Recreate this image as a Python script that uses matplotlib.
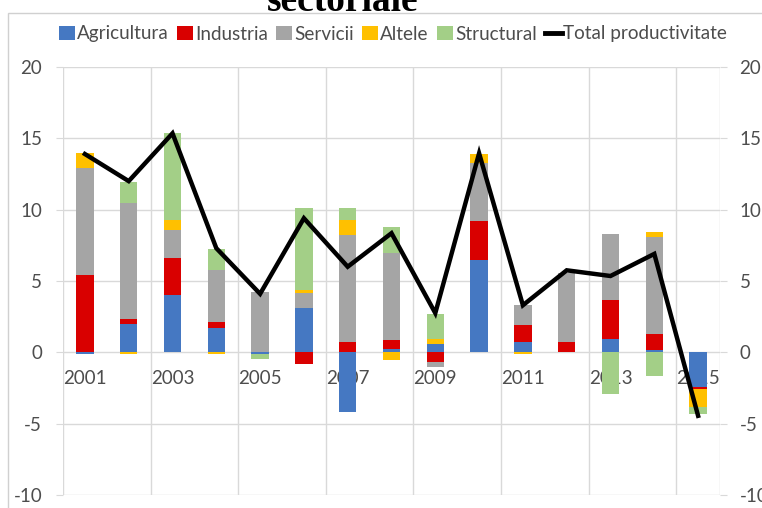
import numpy as np
import matplotlib.pyplot as plt
from matplotlib.patches import Patch, Rectangle
from matplotlib.lines import Line2D

# contributii la cresterea productivitatii, puncte procentuale
years = [str(y) for y in range(2001, 2016)]
agricultura = [-0.1, 2.0, 4.0, 1.7, -0.1, 3.1, -4.2, 0.2, 0.6, 6.5, 0.7, 0.0, 0.9, 0.15, -2.4]
industria = [5.4, 0.35, 2.6, 0.45, 0.0, -0.8, 0.75, 0.65, -0.65, 2.7, 1.2, 0.75, 2.8, 1.15, -0.2]
servicii = [7.5, 8.1, 2.0, 3.6, 4.2, 1.05, 7.5, 6.1, -0.35, 4.1, 1.4, 4.8, 4.6, 6.8, 0.0]
altele = [1.1, -0.1, 0.7, -0.15, 0.0, 0.2, 1.05, -0.55, 0.35, 0.6, -0.1, 0.0, 0.0, 0.35, -1.2]
structural = [0.0, 1.5, 6.1, 1.5, -0.35, 5.8, 0.85, 1.85, 1.75, 0.0, 0.0, 0.0, -2.9, -1.65, -0.5]
total = [13.9, 12.0, 15.35, 7.3, 4.1, 9.4, 6.0, 8.35, 2.75, 13.95, 3.3, 5.75, 5.35, 6.9, -4.45]

series = [
    ("Agricultura", agricultura, "#4578c2"),
    ("Industria", industria, "#d90000"),
    ("Servicii", servicii, "#a5a5a5"),
    ("Altele", altele, "#ffc000"),
    ("Structural", structural, "#a3cf87"),
]

plt.rcParams['font.family'] = ['Lato', 'DejaVu Sans']
plt.rcParams['axes.unicode_minus'] = False
txt_col = "#4d4d4d"
grid_col = "#d9d9d9"

fig = plt.figure(figsize=(7.62, 5.08), dpi=100)
ax = fig.add_axes([63 / 762, 1 - 495 / 508, (720 - 63) / 762, (495 - 67) / 508])

x = np.arange(len(years))
pos_bottom = np.zeros(len(years))
neg_bottom = np.zeros(len(years))
for name, vals, col in series:
    v = np.array(vals)
    pos = np.where(v > 0, v, 0)
    neg = np.where(v < 0, v, 0)
    ax.bar(x, pos, 0.4, bottom=pos_bottom, color=col, zorder=2)
    ax.bar(x, neg, 0.4, bottom=neg_bottom, color=col, zorder=2)
    pos_bottom += pos
    neg_bottom += neg

ax.set_xlim(-0.5, len(years) - 0.5)
ax.set_ylim(-10, 20)
ax.set_yticks(range(-10, 21, 5))
ax.grid(axis='y', color=grid_col, lw=1, zorder=0)
for xv in list(np.arange(-0.5, len(years), 2)) + [len(years) - 0.5]:
    ax.axvline(xv, color=grid_col, lw=1, zorder=0)

ax.set_xticks(x[::2])
ax.set_xticklabels(years[::2])
ax.spines['bottom'].set_position(('data', 0))
for s in ax.spines.values():
    s.set_visible(False)
ax.tick_params(axis='x', length=0, pad=13, labelsize=13.5, labelcolor=txt_col)
ax.tick_params(axis='y', length=5, color=grid_col, pad=10, labelsize=13.5, labelcolor=txt_col)

# linia totala pe axa secundara
ax2 = ax.twinx()
ax2.set_ylim(-10, 20)
ax2.set_yticks(range(-10, 21, 5))
for s in ax2.spines.values():
    s.set_visible(False)
ax2.tick_params(axis='y', length=5, color=grid_col, pad=9, labelsize=13.5, labelcolor=txt_col)
ax2.plot(x, total, color="black", lw=3.2, solid_joinstyle='miter', zorder=3)

handles = [Patch(facecolor=c, label=n) for n, _, c in series]
handles.append(Line2D([], [], color="black", lw=3.5, label="Total productivitate"))
fig.legend(handles=handles, loc='center', bbox_to_anchor=(393 / 762, 1 - 34 / 508),
           ncol=6, frameon=False, fontsize=13.6, handlelength=0.85, handleheight=0.7,
           handletextpad=0.1, columnspacing=0.45, labelcolor=txt_col, borderpad=0)

# chenarul graficului si titlul taiat
fig.add_artist(Rectangle((8 / 762, -0.1), 2, 1.1 - 13 / 508, transform=fig.transFigure,
                         fill=False, edgecolor="#d0d0d0", lw=1))
fig.text(343 / 762, 1 - 11 / 508, "sectoriale", ha='center', va='baseline',
         family='Liberation Serif', weight='bold', fontsize=27, color='black')

fig.savefig("out.png", dpi=100)
